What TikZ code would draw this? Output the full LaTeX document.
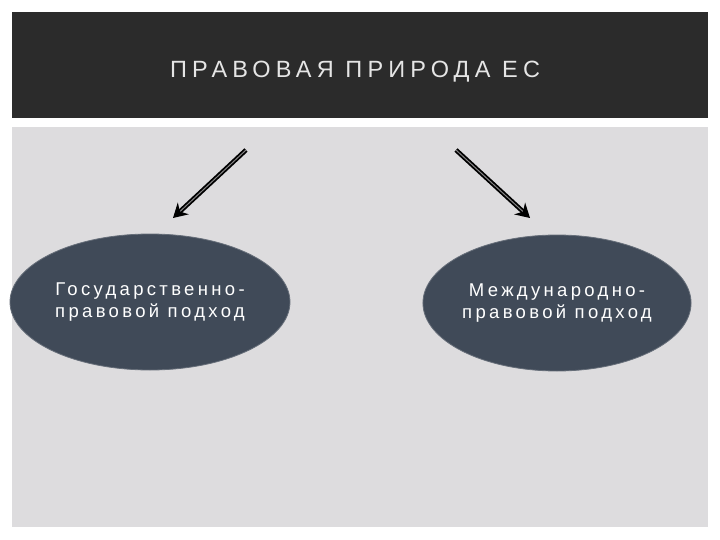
\documentclass[tikz,border=0pt]{standalone}
\usepackage{fontspec}
\setmainfont{Liberation Sans}
\newfontfamily\spaced[LetterSpace=22]{Liberation Sans}
\newfontfamily\spacedb[LetterSpace=18]{Liberation Sans}
\usetikzlibrary{arrows.meta,shapes.geometric}
\definecolor{hdr}{HTML}{2B2B2B}
\definecolor{pane}{HTML}{DDDCDE}
\definecolor{oval}{HTML}{404A58}
\tikzset{
  bubble/.style={ellipse, fill=oval, draw=oval!80!white, line width=0.8pt, text=white, align=center, font=\spacedb\fontsize{18.5}{22}\selectfont},
  dblarrow/.style={double=pane!60!black, double distance=1pt, line width=1.8pt, draw=black, -{Stealth[length=14pt,width=16pt]}}
}
\begin{document}
\begin{tikzpicture}[x=1pt,y=-1pt]
\useasboundingbox (0,0) rectangle (720,540);
\fill[white] (0,0) rectangle (720,540);
\fill[hdr] (12,12) rectangle (708,118);
\fill[pane] (12,127) rectangle (708,527);
\node[anchor=west, inner sep=0pt, text=white!90!black, font=\spaced\fontsize{23.5}{28}\selectfont] (title) at (170,72) {ПРАВОВАЯ ПРИРОДА ЕС};
\node[bubble, minimum width=280pt, minimum height=136pt, inner sep=0pt] (left) at (150,302) {Государственно-\\правовой подход};
\node[bubble, minimum width=266pt, minimum height=136pt, inner sep=0pt] (right) at (557,303) {Международно-\\правовой подход};
\coordinate (ls) at (246,150);
\coordinate (le) at (173,218);
\coordinate (rs) at (456,150);
\coordinate (re) at (530,218);
\draw[dblarrow] (ls) -- (le);
\draw[dblarrow] (rs) -- (re);
\end{tikzpicture}
\end{document}
